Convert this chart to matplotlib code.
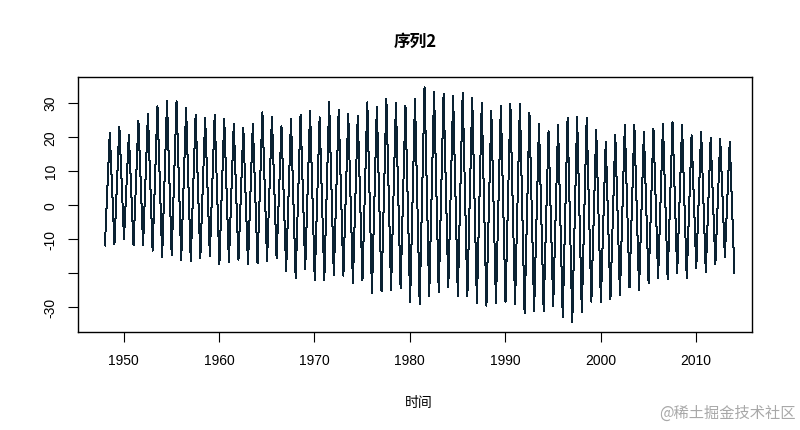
import numpy as np
import matplotlib.pyplot as plt

plt.rcParams['font.family'] = ['Liberation Sans', 'Noto Sans CJK SC', 'DejaVu Sans']

# yearly summer peaks (1948-2013) and January troughs (1948-2014)
peak_years = list(range(1948, 2014))
peaks = [21, 23, 20.6, 24.6, 26.6, 29, 30.4, 30.4, 28.4, 26.5,
         25.4, 26.3, 25.2, 23.7, 22.5, 23.9, 27.2, 25.9, 23.1, 25.2,
         26.4, 27.6, 25.7, 30.1, 27.8, 26.7, 26.2, 30.1, 28.9, 31.1,
         29.8, 29.1, 31.1, 34.5, 33.3, 32.7, 31.9, 33, 31.4, 29.8,
         27.5, 29.1, 29.6, 29.6, 27, 23.7, 21.6, 23.4, 25.5, 25.9,
         25.5, 22, 18.6, 20.4, 23.4, 23.4, 21.5, 22.3, 23.7, 24.2,
         23.4, 20.4, 21.5, 19.6, 19.3, 18.6]
trough_years = list(range(1948, 2015))
troughs = [-12, -11.6, -10, -12, -11.8, -13.5, -15.3, -14.8, -16.2, -16.5,
           -15.7, -15, -17.6, -17, -16.2, -17.6, -17.2, -16.5, -15.7, -19.4,
           -21.7, -19, -22.2, -22.2, -20.7, -20.9, -23, -22.3, -26, -25.5,
           -25.1, -24.6, -28.5, -29.2, -27, -25.8, -24.3, -26.8, -27, -29,
           -29.7, -29, -28.5, -29.2, -32, -31.2, -31.2, -29.7, -33.1, -34.6,
           -31.7, -28.5, -28.5, -27.7, -26.5, -24.3, -25, -23.1, -21.6, -21.9,
           -20.2, -21.6, -18.6, -19.9, -17.6, -15.3, -20.2]

xticks = [1950, 1960, 1970, 1980, 1990, 2000, 2010]
yticks = [-30, -20, -10, 0, 10, 20, 30]
ylabels = ['-30', '', '-10', '0', '10', '20', '30']

t, v = [], []
for i, yr in enumerate(trough_years):
    t.append(yr + 0.04)
    v.append(troughs[i])
    if i < len(peaks):
        t.append(peak_years[i] + 0.55)
        v.append(peaks[i])

fig = plt.figure(figsize=(8, 4.31), dpi=100)
ax = fig.add_axes([0.098, 0.2274, 0.8416, 0.5909])
ax.plot(t, v, color='#0a2233', lw=0.72, antialiased=False)

ax.set_xlim(1945.26, 2015.85)
ax.set_ylim(-37.44, 37.47)
ax.set_xticks(xticks)
ax.set_yticks(yticks)
ax.set_yticklabels(ylabels, rotation=90, va='center')
ax.tick_params(direction='out', length=7, width=0.8, labelsize=10, pad=8)
for s in ax.spines.values():
    s.set_linewidth(1.0)

fig.text(0.519, 0.903, '序列2', ha='center', va='center', fontsize=12,
         fontweight='bold', family=['Noto Sans CJK SC', 'DejaVu Sans'])
fig.text(0.524, 0.065, '时间', ha='center', va='center', fontsize=10,
         family=['Noto Sans CJK SC', 'DejaVu Sans'])
fig.text(0.994, 0.04, '@稀土掘金技术社区', ha='right', va='center', fontsize=11,
         color='#a8a8a8', family=['Noto Sans CJK SC', 'DejaVu Sans'])

fig.savefig('out.png', dpi=100)
